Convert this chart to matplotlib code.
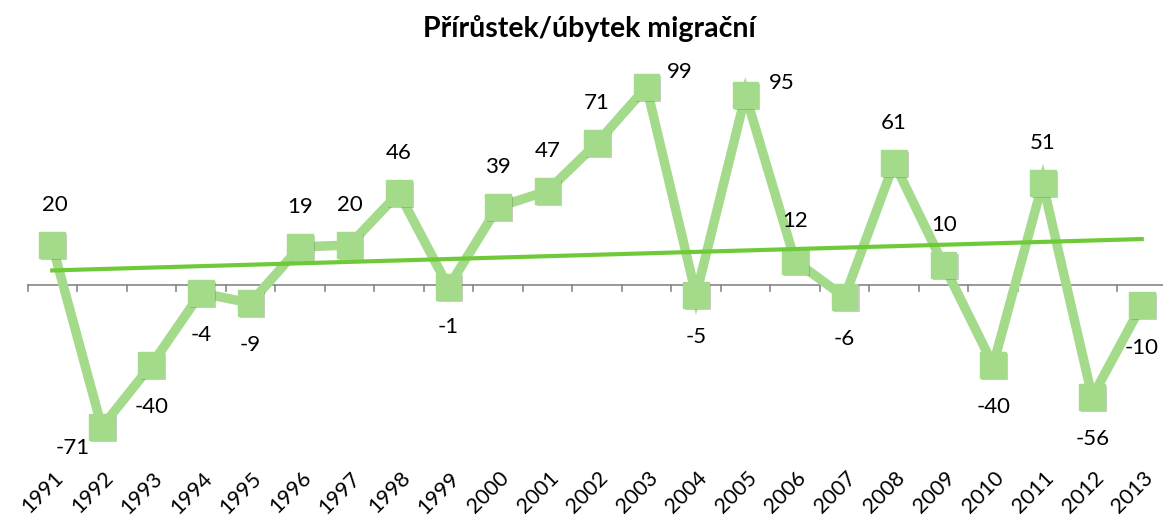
import matplotlib
matplotlib.use("Agg")
import matplotlib.pyplot as plt
import matplotlib.patheffects as pe
import matplotlib.transforms as mtransforms
import numpy as np

years = ["1991", "1992", "1993", "1994", "1995", "1996", "1997", "1998", "1999", "2000",
         "2001", "2002", "2003", "2004", "2005", "2006", "2007", "2008", "2009", "2010",
         "2011", "2012", "2013"]
values = [20, -71, -40, -4, -9, 19, 20, 46, -1, 39, 47, 71, 99, -5, 95, 12, -6, 61, 10, -40, 51, -56, -10]
title = "Přírůstek/úbytek migrační"

# label offsets in pixels (dx, dy; dy positive = up)
label_offsets = [(3, 40), (-29, -21), (0, -42), (0, -42), (0, -42), (0, 40), (0, 40), (0, 40),
                 (0, -40), (0, 40), (0, 40), (0, 40), (33, 15), (0, -42), (36, 12), (0, 40),
                 (0, -42), (0, 40), (0, 40), (0, -42), (0, 40), (0, -42), (0, -43)]

FONT = "Lato"
LINE_C = "#A4DB8B"
TREND_C = "#6FCA3A"
AXIS_C = "#868686"

W, H = 1163, 520
fig = plt.figure(figsize=(W / 100, H / 100), dpi=100)
left_px, right_px = 27.5, 1166.5
top_px, bot_px = 65, 445
ax = fig.add_axes([left_px / W, 1 - bot_px / H, (right_px - left_px) / W, (bot_px - top_px) / H])
ax.set_xlim(-0.5, len(years) - 0.5)
ax.set_ylim(-80, 110)
ax.axis("off")

x = np.arange(len(years))
# axis line at zero and boundary ticks
ax.plot([-0.5, len(years) - 0.5], [0, 0], color=AXIS_C, lw=1.2, zorder=1, clip_on=False)
ticks = np.arange(len(years)) - 0.5
for t in ticks:
    ax.plot([t, t], [0, -3.2], color=AXIS_C, lw=1.2, zorder=1, clip_on=False)

# data line
ax.plot(x, values, color=LINE_C, lw=6.8, zorder=2, solid_joinstyle="miter")
ax.plot(x, values, linestyle="none", marker="s", markersize=18.5, markerfacecolor=LINE_C,
        markeredgecolor=LINE_C, zorder=3,
        path_effects=[pe.SimplePatchShadow(offset=(1.5, -1.5), alpha=0.25), pe.Normal()])

# trend line
coef = np.polyfit(x, values, 1)
ax.plot(x, np.polyval(coef, x), color=TREND_C, lw=3.0, zorder=4)

# value labels
for xi, v, (dx, dy) in zip(x, values, label_offsets):
    ax.annotate(str(v), (xi, v), xytext=(dx * 0.72, dy * 0.72), textcoords="offset points",
                ha="center", va="center", fontsize=16, family=FONT, color="black", zorder=5)

# year labels
trans = mtransforms.blended_transform_factory(ax.transData, fig.transFigure)
for xi, yr in zip(x, years):
    ax.text(xi + 0.02, 1 - 468 / H, yr, transform=trans, rotation=45, ha="right", va="top",
            rotation_mode="anchor", fontsize=15.5, family=FONT, color="black")

fig.text(589 / W, 1 - 29 / H, title, ha="center", va="center", fontsize=20.5,
         fontweight="bold", family=FONT)

fig.savefig("out.png", dpi=100)
